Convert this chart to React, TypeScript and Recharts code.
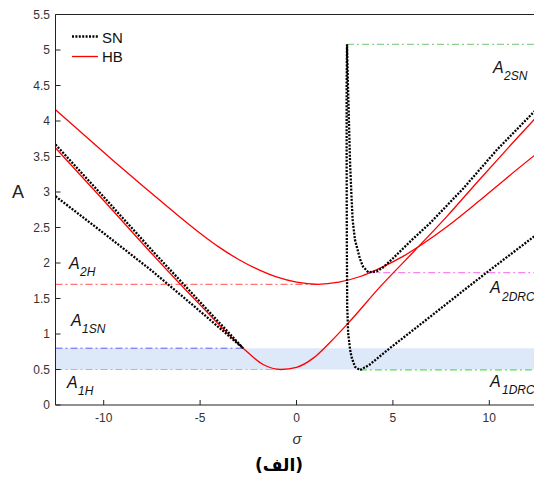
import React from 'react';
import { ComposedChart, Line, XAxis, YAxis, ReferenceArea } from 'recharts';

const xTicks = [-10, -5, 0, 5, 10];
const yTicks = [0, 0.5, 1, 1.5, 2, 2.5, 3, 3.5, 4, 4.5, 5, 5.5];
const xDomain = [-12.5, 12.5];
const yDomain = [0, 5.5];

// HB branch 1 (V-shaped)
const hbLower = [
  { x: -12.5, y: 3.62 }, { x: -10, y: 2.88 }, { x: -7.5, y: 2.13 }, { x: -5, y: 1.41 },
  { x: -2.77, y: 0.8 }, { x: -1.73, y: 0.57 }, { x: -0.8, y: 0.5 }, { x: 0, y: 0.53 },
  { x: 0.87, y: 0.66 }, { x: 1.73, y: 0.88 }, { x: 2.77, y: 1.18 }, { x: 4.32, y: 1.66 },
  { x: 6.15, y: 2.18 }, { x: 7.78, y: 2.65 }, { x: 9.51, y: 3.18 }, { x: 11.24, y: 3.7 },
  { x: 12.5, y: 4.07 },
];
// HB branch 2 (upper)
const hbUpper = [
  { x: -12.5, y: 4.16 }, { x: -11, y: 3.8 }, { x: -9.5, y: 3.44 }, { x: -8, y: 3.09 },
  { x: -6.5, y: 2.75 }, { x: -5, y: 2.42 }, { x: -4, y: 2.22 }, { x: -3, y: 2.05 },
  { x: -2, y: 1.91 }, { x: -1, y: 1.8 }, { x: 0, y: 1.73 }, { x: 1.1, y: 1.7 },
  { x: 2.2, y: 1.73 }, { x: 3.3, y: 1.81 }, { x: 4.5, y: 1.95 }, { x: 5.5, y: 2.09 },
  { x: 6.5, y: 2.26 }, { x: 7.8, y: 2.51 }, { x: 9.5, y: 2.88 }, { x: 11, y: 3.22 },
  { x: 12.5, y: 3.55 },
];
// SN left wedge
const snLeftUpper = [
  { x: -12.5, y: 3.67 }, { x: -10, y: 2.93 }, { x: -7.5, y: 2.18 }, { x: -5, y: 1.45 }, { x: -2.77, y: 0.8 },
];
const snLeftLower = [
  { x: -12.5, y: 2.94 }, { x: -10, y: 2.42 }, { x: -7.5, y: 1.89 }, { x: -5, y: 1.32 }, { x: -2.77, y: 0.8 },
];
// SN right curve (one path)
const snRight = [
  { x: 12.5, y: 4.18 }, { x: 10.38, y: 3.59 }, { x: 8.65, y: 3.05 }, { x: 6.92, y: 2.56 },
  { x: 6.0, y: 2.33 }, { x: 5.02, y: 2.07 }, { x: 4.5, y: 1.94 }, { x: 4.15, y: 1.88 },
  { x: 3.72, y: 1.87 }, { x: 3.45, y: 1.95 }, { x: 3.29, y: 2.06 }, { x: 3.03, y: 2.33 },
  { x: 2.91, y: 2.61 }, { x: 2.86, y: 2.89 }, { x: 2.78, y: 3.4 }, { x: 2.72, y: 4.0 },
  { x: 2.66, y: 4.6 }, { x: 2.62, y: 5.08 }, { x: 2.6, y: 4.5 }, { x: 2.6, y: 3.5 },
  { x: 2.61, y: 2.33 }, { x: 2.63, y: 1.39 }, { x: 2.68, y: 1.01 }, { x: 2.78, y: 0.78 },
  { x: 2.85, y: 0.68 }, { x: 3.03, y: 0.54 }, { x: 3.29, y: 0.49 }, { x: 3.8, y: 0.57 },
  { x: 4.84, y: 0.8 }, { x: 6.92, y: 1.24 }, { x: 8.65, y: 1.61 }, { x: 9.86, y: 1.865 },
  { x: 12.11, y: 2.33 }, { x: 12.5, y: 2.41 },
];
// threshold lines
const a2snLine = [{ x: 2.62, y: 5.08 }, { x: 12.5, y: 5.08 }];
const a2hLine = [{ x: -12.5, y: 1.7 }, { x: 1.1, y: 1.7 }];
const a2drcLine = [{ x: 3.72, y: 1.865 }, { x: 12.5, y: 1.865 }];
const a1snLine = [{ x: -12.5, y: 0.8 }, { x: -2.77, y: 0.8 }];
const a1hLine = [{ x: -12.5, y: 0.5 }, { x: -0.8, y: 0.5 }];
const a1drcLine = [{ x: 3.29, y: 0.495 }, { x: 12.5, y: 0.495 }];
const band = { low: 0.5, high: 0.8 };

const FONT = '"Liberation Sans", Arial, sans-serif';
const DASHDOT = '7 3 2 3';
const DOTS = '2 1.4';

const tickStyle = { fontSize: 12, fill: '#333', fontFamily: FONT };

function Sub({ x, y, sx, sy, sub }: { x: number; y: number; sx: number; sy: number; sub: string }) {
  return (
    <text fontFamily={FONT} fontStyle="italic" fill="#111">
      <tspan x={x} y={y} fontSize={16}>A</tspan>
      <tspan x={sx} y={sy} fontSize={12}>{sub}</tspan>
    </text>
  );
}

export default function App() {
  return (
    <div style={{ position: 'absolute', left: 0, top: 0, width: 534, height: 480, overflow: 'hidden', background: '#fff' }}>
      <ComposedChart width={540} height={480} margin={{ top: 13.5, right: 1.5, bottom: 45, left: 0 }}>
        <ReferenceArea x1={-12.5} x2={12.5} y1={band.low} y2={band.high} fill="#dde8f8" fillOpacity={1} stroke="none" ifOverflow="hidden" />
        <XAxis type="number" dataKey="x" domain={xDomain} ticks={xTicks} allowDataOverflow height={30}
          tickSize={-5} tickMargin={13} tick={tickStyle} stroke="#222" tickLine={{ stroke: '#222' }} />
        <XAxis xAxisId="top" orientation="top" type="number" dataKey="x" domain={xDomain} ticks={xTicks} allowDataOverflow height={1}
          tickSize={-5} tick={false} stroke="#222" />
        <YAxis type="number" domain={yDomain} ticks={yTicks} allowDataOverflow width={55.5}
          tickSize={-5} tickMargin={10.5} tick={tickStyle} stroke="#222" />
        <YAxis yAxisId="right" orientation="right" type="number" domain={yDomain} ticks={yTicks} allowDataOverflow width={1}
          tickSize={-5} tick={false} stroke="#222" />
        <Line data={a2snLine} dataKey="y" stroke="#8fd08f" strokeWidth={1.2} strokeDasharray={DASHDOT} dot={false} activeDot={false} isAnimationActive={false} type="linear" />
        <Line data={a2hLine} dataKey="y" stroke="#ff5050" strokeWidth={1} strokeDasharray={DASHDOT} dot={false} activeDot={false} isAnimationActive={false} type="linear" />
        <Line data={a2drcLine} dataKey="y" stroke="#ff80f0" strokeWidth={1.2} strokeDasharray={DASHDOT} dot={false} activeDot={false} isAnimationActive={false} type="linear" />
        <Line data={a1snLine} dataKey="y" stroke="#5a5aff" strokeWidth={1} strokeDasharray={DASHDOT} dot={false} activeDot={false} isAnimationActive={false} type="linear" />
        <Line data={a1hLine} dataKey="y" stroke="#ff9a9a" strokeWidth={1.2} strokeDasharray={DASHDOT} dot={false} activeDot={false} isAnimationActive={false} type="linear" />
        <Line data={a1drcLine} dataKey="y" stroke="#55dd55" strokeWidth={1.2} strokeDasharray={DASHDOT} dot={false} activeDot={false} isAnimationActive={false} type="linear" />
        <Line data={hbLower} dataKey="y" stroke="#ff0000" strokeWidth={1.3} dot={false} activeDot={false} isAnimationActive={false} type="monotone" />
        <Line data={hbUpper} dataKey="y" stroke="#ff0000" strokeWidth={1.3} dot={false} activeDot={false} isAnimationActive={false} type="monotone" />
        <Line data={snLeftUpper} dataKey="y" stroke="#000" strokeWidth={2.3} strokeDasharray={DOTS} dot={false} activeDot={false} isAnimationActive={false} type="linear" />
        <Line data={snLeftLower} dataKey="y" stroke="#000" strokeWidth={2.3} strokeDasharray={DOTS} dot={false} activeDot={false} isAnimationActive={false} type="linear" />
        <Line data={snRight} dataKey="y" stroke="#000" strokeWidth={2.3} strokeDasharray={DOTS} dot={false} activeDot={false} isAnimationActive={false} type="linear" />
      </ComposedChart>
      <svg width={534} height={480} style={{ position: 'absolute', left: 0, top: 0, pointerEvents: 'none' }}>
        <line x1={72} y1={36.5} x2={98} y2={36.5} stroke="#000" strokeWidth={2.3} strokeDasharray={DOTS} />
        <text x={102} y={43} fontFamily={FONT} fontSize={15} fill="#111">SN</text>
        <line x1={72} y1={56.5} x2={98} y2={56.5} stroke="#ff0000" strokeWidth={1.3} />
        <text x={102} y={61.5} fontFamily={FONT} fontSize={15} fill="#111">HB</text>
        <Sub x={493} y={72.5} sx={504} sy={79.5} sub="2SN" />
        <Sub x={69} y={268.5} sx={80} sy={275.5} sub="2H" />
        <Sub x={71} y={326} sx={82} sy={333} sub="1SN" />
        <Sub x={67} y={388} sx={78} sy={395} sub="1H" />
        <Sub x={490} y={293} sx={502} sy={300.5} sub="2DRC" />
        <Sub x={490} y={386.5} sx={502} sy={394} sub="1DRC" />
        <text x={12} y={198} fontFamily={FONT} fontSize={18} fill="#222">A</text>
        <text x={297} y={443.5} textAnchor="middle" fontFamily={FONT} fontStyle="italic" fontSize={15} fill="#333">σ</text>
        <text x={279} y={471} textAnchor="middle" fontFamily='"DejaVu Sans", sans-serif' fontWeight="bold" fontSize={17} fill="#000">(الف)</text>
      </svg>
    </div>
  );
}
